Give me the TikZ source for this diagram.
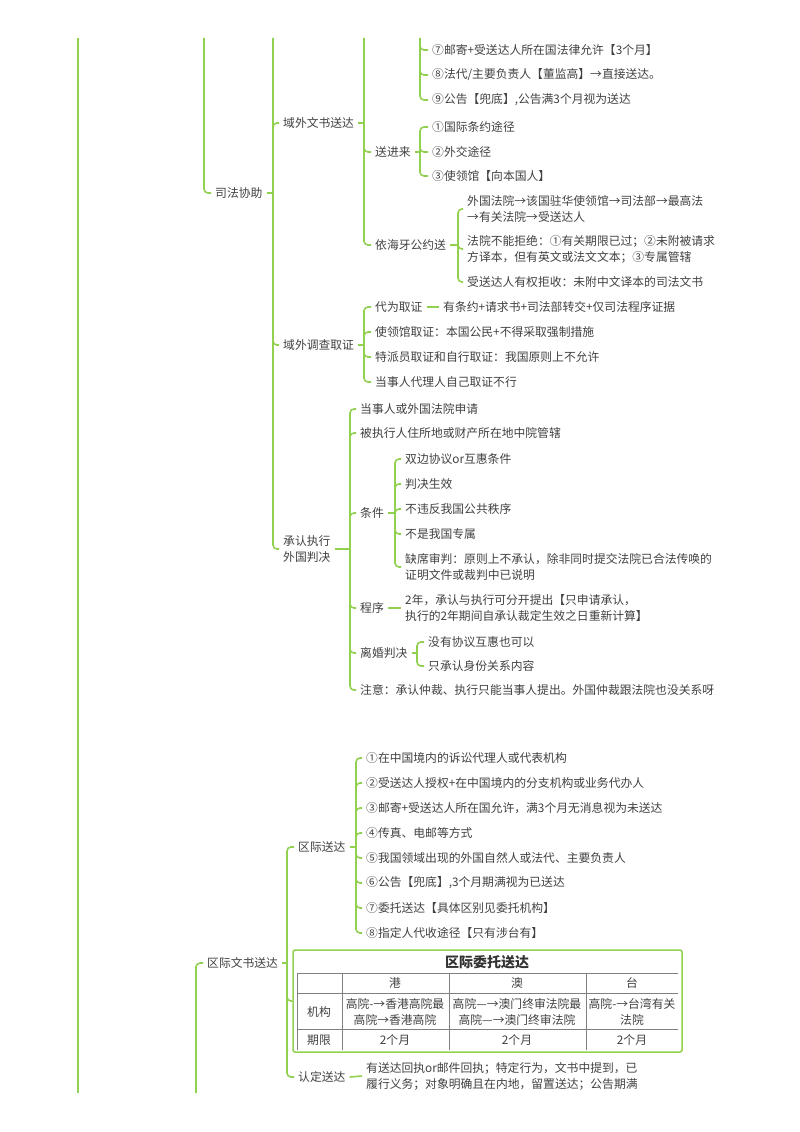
\documentclass[tikz,border=0pt]{standalone}
\usepackage{fontspec}
\setmainfont{Noto Sans CJK SC}
\usetikzlibrary{positioning,calc}
\definecolor{mmgreen}{RGB}{146,208,80}
\definecolor{mmtext}{RGB}{64,64,64}
\definecolor{mmgrid}{RGB}{128,128,128}

\begin{document}
\begin{tikzpicture}[x=1pt, y=-1pt,
    topic/.style={anchor=west, inner xsep=4pt, inner ysep=1pt, align=left, text=mmtext, font=\fontsize{11.8pt}{16pt}\selectfont},
    link/.style={draw=mmgreen, line width=1.6pt, rounded corners=4pt},
    cell/.style={inner sep=0pt, align=center, text=mmtext, font=\fontsize{11.8pt}{16pt}\selectfont},
    tabline/.style={draw=mmgrid, line width=0.8pt}
]
\useasboundingbox (0,0) rectangle (800,1132);

% free ends of branches that start outside the page
\coordinate (topL) at (78,38);
\coordinate (botL) at (78,1093);
\coordinate (topS) at (204,38);
\coordinate (topA) at (273,38);
\coordinate (topB) at (364,38);
\coordinate (topC) at (420,38);
\coordinate (botQ) at (196,1093);

% 司法协助
\node[topic] (sfxz) at (211,193) {司法协助};
\node[topic] (ywws) at (279,123) {域外文书送达};
\node[topic] (ywdc) at (279,345) {域外调查取证};
\node[topic] (cr) at (279,549) {承认执行\\外国判决};

\node[topic] (s7) at (428,50) {⑦邮寄+受送达人所在国法律允许【3个月】};
\node[topic] (s8) at (428,75) {⑧法代/主要负责人【董监高】→直接送达。};
\node[topic] (s9) at (428,100) {⑨公告【兜底】,公告满3个月视为送达};

\node[topic] (jinlai) at (371,152) {送进来};
\node[topic] (j1) at (428,127) {①国际条约途径};
\node[topic] (j2) at (428,152) {②外交途径};
\node[topic] (j3) at (428,176) {③使领馆【向本国人】};

\node[topic] (hy) at (371,245) {依海牙公约送};
\node[topic] (h1) at (463,209) {外国法院→该国驻华使领馆→司法部→最高法\\→有关法院→受送达人};
\node[topic] (h2) at (463,249) {法院不能拒绝：①有关期限已过；②未附被请求\\方译本，但有英文或法文文本；③专属管辖};
\node[topic] (h3) at (463,282) {受送达人有权拒收：未附中文译本的司法文书};

\node[topic] (d1) at (371,307) {代为取证};
\node[topic] (d1a) at (439,307) {有条约+请求书+司法部转交+仅司法程序证据};
\node[topic] (d2) at (371,332) {使领馆取证：本国公民+不得采取强制措施};
\node[topic] (d3) at (371,357) {特派员取证和自行取证：我国原则上不允许};
\node[topic] (d4) at (371,382) {当事人代理人自己取证不行};

\node[topic] (c1) at (356,409) {当事人或外国法院申请};
\node[topic] (c2) at (356,433) {被执行人住所地或财产所在地中院管辖};
\node[topic] (tj) at (356,513) {条件};
\node[topic] (t1) at (401,459) {双边协议or互惠条件};
\node[topic] (t2) at (401,484) {判决生效};
\node[topic] (t3) at (401,509) {不违反我国公共秩序};
\node[topic] (t4) at (401,534) {不是我国专属};
\node[topic] (t5) at (401,567) {缺席审判：原则上不承认，除非同时提交法院已合法传唤的\\证明文件或裁判中已说明};
\node[topic] (cx) at (356,608) {程序};
\node[topic] (cxa) at (401,608) {2年，承认与执行可分开提出【只申请承认，\\执行的2年期间自承认裁定生效之日重新计算】};
\node[topic] (lh) at (356,653) {离婚判决};
\node[topic] (l1) at (424,642) {没有协议互惠也可以};
\node[topic] (l2) at (424,666) {只承认身份关系内容};
\node[topic] (zy) at (356,690) {注意：承认仲裁、执行只能当事人提出。外国仲裁跟法院也没关系呀};

% 区际文书送达
\node[topic] (qjws) at (203,963) {区际文书送达};
\node[topic] (qjsd) at (294,847) {区际送达};
\node[topic] (q1) at (362,758) {①在中国境内的诉讼代理人或代表机构};
\node[topic] (q2) at (362,783) {②受送达人授权+在中国境内的分支机构或业务代办人};
\node[topic] (q3) at (362,808) {③邮寄+受送达人所在国允许，满3个月无消息视为未送达};
\node[topic] (q4) at (362,833) {④传真、电邮等方式};
\node[topic] (q5) at (362,858) {⑤我国领域出现的外国自然人或法代、主要负责人};
\node[topic] (q6) at (362,883) {⑥公告【兜底】,3个月期满视为已送达};
\node[topic] (q7) at (362,908) {⑦委托送达【具体区别见委托机构】};
\node[topic] (q8) at (362,933) {⑧指定人代收途径【只有涉台有】};
\node[topic] (rd) at (294,1077) {认定送达};
\node[topic] (rda) at (362,1076) {有送达回执or邮件回执；特定行为，文书中提到，已\\履行义务；对象明确且在内地，留置送达；公告期满};

% 区际委托送达 table
\node[draw=mmgreen, line width=1.5pt, rounded corners=2pt, minimum width=389pt, minimum height=102pt, inner sep=0pt] (wtbox) at (487.5,1001) {};
\node[cell, font=\fontsize{14pt}{16pt}\selectfont\bfseries, text=black!80] (wtt) at (487,962) {区际委托送达};
\draw[tabline] (297,973) -- (678,973) (297,993) -- (678,993) (297,1029) -- (678,1029);
\draw[tabline] (297,973) -- (297,1050) (342,973) -- (342,1050) (449,973) -- (449,1050) (586,973) -- (586,1050);
\node[cell] (hg) at (395,983) {港};
\node[cell] (hm) at (517,983) {澳};
\node[cell] (ht) at (632,983) {台};
\node[cell] (jg) at (319,1012) {机构};
\node[cell] (jg1) at (395,1012) {高院-→香港高院最\\高院→香港高院};
\node[cell] (jg2) at (517,1012) {高院—→澳门终审法院最\\高院—→澳门终审法院};
\node[cell] (jg3) at (632,1012) {高院-→台湾有关\\法院};
\node[cell] (qx) at (319,1040) {期限};
\node[cell] (qx1) at (395,1040) {2个月};
\node[cell] (qx2) at (517,1040) {2个月};
\node[cell] (qx3) at (632,1040) {2个月};

% connectors
\draw[link] (topL) -- (botL);
\draw[link] (topS) |- (sfxz.west);
\draw[link] (sfxz.east) -- (273,193) coordinate (jA);
\draw[link] (topA) |- (cr.west) (jA) |- (ywws.west) (jA) |- (ywdc.west);
\draw[link] (ywws.east) -- (364,123) coordinate (jB);
\draw[link] (topB) |- (hy.west) (jB) |- (jinlai.west);
\draw[link] (topC) |- (s9.west) (topC) |- (s7.west) (topC) |- (s8.west);
\draw[link] (jinlai.east) -- (420,152) coordinate (jC);
\draw[link] (jC) |- (j1.west) (jC) |- (j2.west) (jC) |- (j3.west);
\draw[link] (hy.east) -- (458,245) coordinate (jD);
\draw[link] (jD) |- (h1.west) (jD) |- (h2.west) (jD) |- (h3.west);
\draw[link] (ywdc.east) -- (364,345) coordinate (jE);
\draw[link] (jE) |- (d1.west) (jE) |- (d2.west) (jE) |- (d3.west) (jE) |- (d4.west);
\draw[link] (d1.east) -- (d1a.west);
\draw[link] (cr.east) -- (350,549) coordinate (jF);
\draw[link] (jF) |- (c1.west) (jF) |- (c2.west) (jF) |- (tj.west) (jF) |- (cx.west) (jF) |- (lh.west) (jF) |- (zy.west);
\draw[link] (tj.east) -- (395,513) coordinate (jG);
\draw[link] (jG) |- (t1.west) (jG) |- (t2.west) (jG) |- (t3.west) (jG) |- (t4.west) (jG) |- (t5.west);
\draw[link] (cx.east) -- (cxa.west);
\draw[link] (lh.east) -- (417,653) coordinate (jH);
\draw[link] (jH) |- (l1.west) (jH) |- (l2.west);

\draw[link] (botQ) |- (qjws.west);
\draw[link] (qjws.east) -- (287,963) coordinate (jI);
\draw[link] (jI) |- (qjsd.west) (jI) |- (wtbox.west) (jI) |- (rd.west);
\draw[link] (qjsd.east) -- (356,847) coordinate (jJ);
\draw[link] (jJ) |- (q1.west) (jJ) |- (q2.west) (jJ) |- (q3.west) (jJ) |- (q4.west) (jJ) |- (q5.west) (jJ) |- (q6.west) (jJ) |- (q7.west) (jJ) |- (q8.west);
\draw[link] (rd.east) -- (rda.west);
\end{tikzpicture}
\end{document}
